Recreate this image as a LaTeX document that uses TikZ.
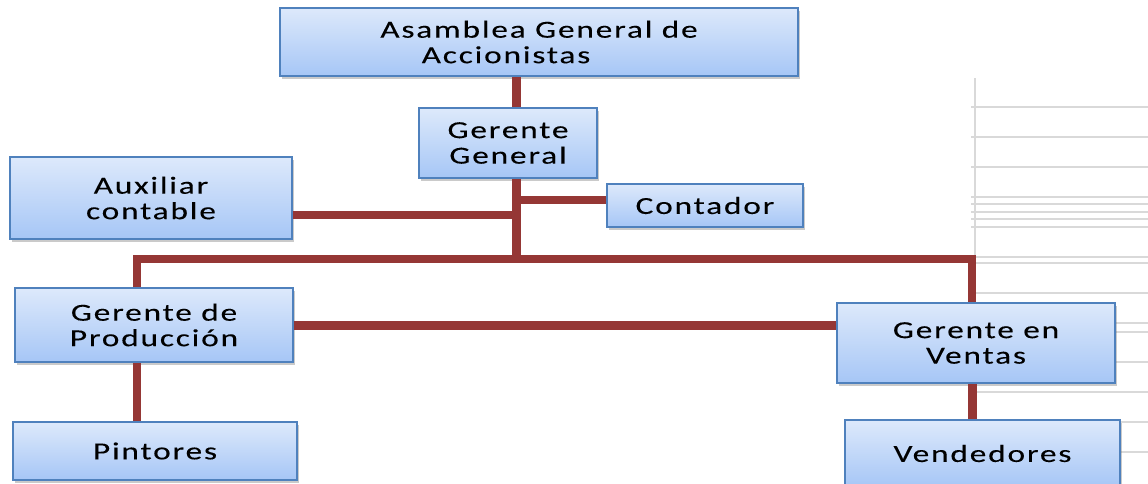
\documentclass[tikz,border=0pt]{standalone}
\usepackage{fontspec}
\setmainfont{Carlito}[FakeStretch=1.36,LetterSpace=7.5,FakeBold=0.12]
\usetikzlibrary{shadows}
\definecolor{linkred}{HTML}{953735}
\definecolor{boxtop}{HTML}{DDE9FB}
\definecolor{boxbot}{HTML}{A6C6F6}
\definecolor{boxedge}{HTML}{4F81BD}
\definecolor{ruleline}{HTML}{D9D9D9}
\tikzset{
  orgbox/.style={draw=boxedge, line width=1.6pt, top color=boxtop, bottom color=boxbot,
    drop shadow={shadow xshift=2pt, shadow yshift=-2.5pt, opacity=0.35, fill=black!60},
    align=center, inner sep=0pt, font=\fontsize{24.5}{25.5}\selectfont},
  link/.style={draw=linkred, line width=8pt},
  spinelink/.style={draw=linkred, line width=9pt},
  grid/.style={draw=ruleline, line width=1.5pt},
}
\begin{document}
\begin{tikzpicture}[x=1pt, y=-1pt]
\useasboundingbox (0,0) rectangle (1148,483);

% faint ruled lines at the right edge
\draw[grid] (975,78) -- (975,257);
\foreach \yy in {107,137,167,197,204,212,219,227,257,263,293,323,332,362,392,422,452}
  \draw[grid] (971,\yy) -- (1148,\yy);

% helper coordinates for the connector routes
\coordinate (spine) at (516,0);
\coordinate (busL) at (137,259);
\coordinate (busR) at (972,259);
\coordinate (auxY) at (0,215);
\coordinate (contY) at (0,200);

% boxes
\node[orgbox, minimum width=518pt, minimum height=68pt] (asam) at (539,42)
  {Asamblea General de\\Accionistas\hspace*{66pt}};
\node[orgbox, minimum width=178pt, minimum height=70pt] (gg) at (508,143)
  {Gerente\\General};
\node[orgbox, minimum width=282pt, minimum height=82pt] (aux) at (151,198)
  {Auxiliar\\contable};
\node[orgbox, minimum width=196pt, minimum height=43pt] (cont) at (705,205.5)
  {Contador};
\node[orgbox, minimum width=278pt, minimum height=74pt] (gp) at (154,325)
  {Gerente de\\Producción};
\node[orgbox, minimum width=278pt, minimum height=80pt] (gv) at (976,343)
  {Gerente en\\Ventas};
\node[orgbox, minimum width=284pt, minimum height=58pt] (pint) at (155,451)
  {Pintores};
\node[orgbox, minimum width=275pt, minimum height=67pt] (vend) at (982.5,453.5)
  {Vendedores};

% connectors
\draw[spinelink] (spine |- asam.south) -- (spine |- gg.north);
\draw[spinelink] (spine |- gg.south) -- (spine |- busL);
\draw[link] (aux.east |- auxY) -- (spine |- auxY);
\draw[link] (spine |- contY) -- (cont.west |- contY);
\draw[link] (busL |- gp.north) -- (busL) -- (busR) -- (busR |- gv.north);
\draw[spinelink] (gp.east) -- (gv.west |- gp.east);
\draw[link] (busL |- gp.south) -- (busL |- pint.north);
\draw[spinelink] (busR |- gv.south) -- (busR |- vend.north);
\end{tikzpicture}
\end{document}
